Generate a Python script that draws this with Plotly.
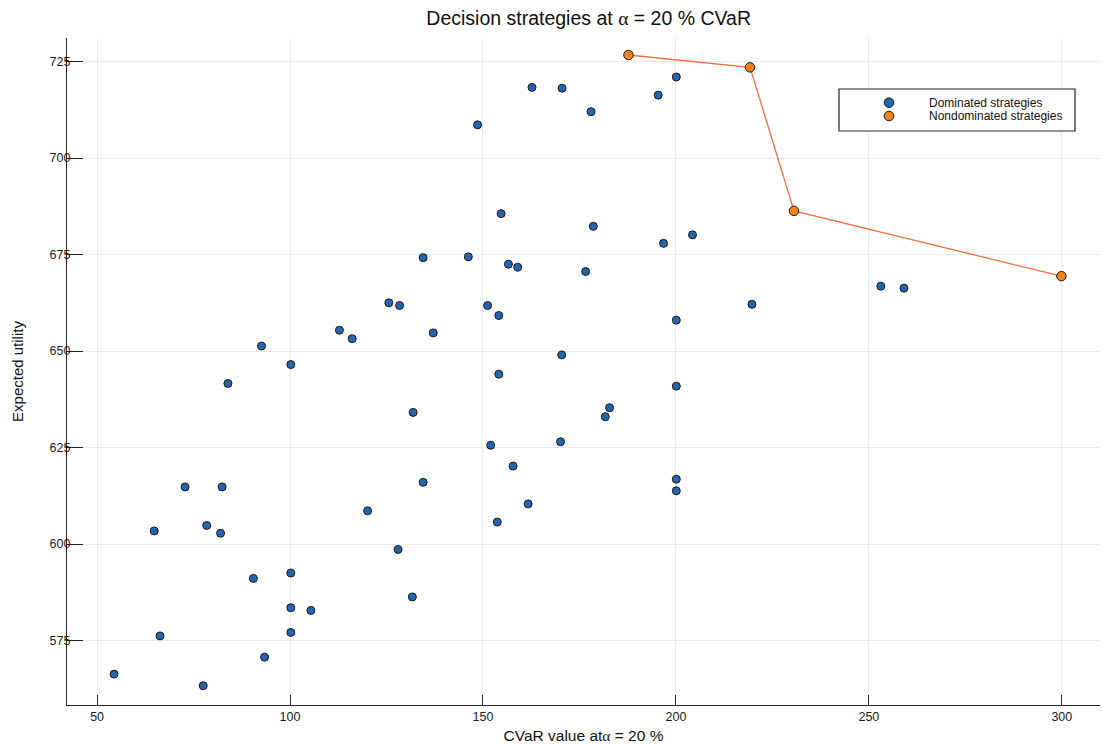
import plotly.graph_objects as go

# Dominated strategies (CVaR value, expected utility)
dom_cvar = [54.4, 77.5, 66.3, 93.4, 100.2, 100.2, 105.4, 131.7, 90.5, 100.2,
            128.0, 64.8, 78.4, 82.0, 72.8, 82.4, 120.1, 134.5, 153.7, 161.7,
            157.8, 152.0, 170.1, 200.1, 200.1, 131.9, 181.7, 182.8, 200.1, 83.9,
            154.1, 100.2, 170.4, 92.6, 112.8, 116.1, 137.1, 200.1, 154.1, 125.6,
            128.4, 151.2, 219.7, 253.1, 259.1, 176.6, 159.0, 156.6, 146.2, 134.5,
            196.8, 204.3, 178.6, 154.7, 148.6, 178.0, 195.4, 162.7, 170.5, 200.1]
dom_util = [566.3, 563.3, 576.2, 570.7, 577.1, 583.5, 582.8, 586.3, 591.1, 592.5,
            598.6, 603.4, 604.8, 602.8, 614.8, 614.8, 608.6, 616.0, 605.7, 610.4,
            620.2, 625.6, 626.5, 616.8, 613.8, 634.1, 633.0, 635.3, 640.9, 641.6,
            644.0, 646.5, 649.0, 651.3, 655.4, 653.2, 654.7, 658.0, 659.2, 662.5,
            661.8, 661.8, 662.1, 666.8, 666.3, 670.6, 671.7, 672.5, 674.4, 674.2,
            677.9, 680.1, 682.3, 685.6, 708.6, 712.0, 716.3, 718.3, 718.1, 721.0]

# Nondominated strategies (Pareto front)
nd_cvar = [187.7, 219.2, 230.6, 299.9]
nd_util = [726.7, 723.5, 686.3, 669.4]

x_ticks = [50, 100, 150, 200, 250, 300]
y_ticks = [575, 600, 625, 650, 675, 700, 725]

legend_labels = ["Dominated strategies", "Nondominated strategies"]

BLUE = "#2764b0"
ORANGE = "#f0841a"
LINE = "#f36d47"
EDGE = "#1a1a1a"
FONT = "Liberation Sans, Arial"
ALPHA = '<span style="font-family:Liberation Serif">α</span>'

W, H = 1102, 744
ML, MR, MT, MB = 67, 2, 38, 39
PW, PH = W - ML - MR, H - MT - MB


def px(x):
    return (x - ML) / PW


def py(y):
    return 1 - (y - MT) / PH


fig = go.Figure()
fig.add_trace(go.Scatter(x=nd_cvar, y=nd_util, mode="lines",
                         line=dict(color=LINE, width=1.3), showlegend=False,
                         hoverinfo="skip"))
fig.add_trace(go.Scatter(x=dom_cvar, y=dom_util, mode="markers",
                         name=legend_labels[0],
                         marker=dict(color=BLUE, size=8,
                                     line=dict(color=EDGE, width=1))))
fig.add_trace(go.Scatter(x=nd_cvar, y=nd_util, mode="markers",
                         name=legend_labels[1],
                         marker=dict(color=ORANGE, size=9.5,
                                     line=dict(color=EDGE, width=1))))

axis_common = dict(showgrid=True, gridcolor="#ebebeb", gridwidth=1,
                   zeroline=False, showline=True, linecolor="#222222",
                   linewidth=1.3, ticks="inside", tickwidth=1.3,
                   tickcolor="#222222", mirror=False, automargin=False,
                   tickfont=dict(family=FONT, size=12.5, color="#1a1a1a"))

# legend drawn as a framed box with sample markers and labels
shapes = [dict(type="rect", xref="paper", yref="paper",
               x0=px(839), x1=px(1075), y0=py(131), y1=py(89),
               line=dict(color="#222222", width=1.2), fillcolor="white",
               layer="above")]
annotations = []
for i, (lab, col) in enumerate(zip(legend_labels, [BLUE, ORANGE])):
    yc = 102.7 + i * 13.3
    shapes.append(dict(type="circle", xref="paper", yref="paper",
                       xsizemode="pixel", ysizemode="pixel",
                       xanchor=px(889), yanchor=py(yc),
                       x0=-4.8, x1=4.8, y0=-4.8, y1=4.8,
                       fillcolor=col, line=dict(color=EDGE, width=1),
                       layer="above"))
    annotations.append(dict(text=lab, xref="paper", yref="paper",
                            x=px(927), y=py(yc), xanchor="left",
                            yanchor="middle", showarrow=False,
                            font=dict(family=FONT, size=12, color="#111111")))

fig.update_layout(
    width=W, height=H,
    paper_bgcolor="white", plot_bgcolor="white",
    margin=dict(l=ML, r=MR, t=MT, b=MB),
    showlegend=False,
    shapes=shapes,
    annotations=annotations,
    title=dict(text=f"Decision strategies at {ALPHA} = 20 % CVaR",
               x=0.505, xref="paper", xanchor="center",
               y=1 - 18 / H, yanchor="middle",
               font=dict(family=FONT, size=19.5, color="#111111")),
    xaxis=dict(range=[42.2, 309.9], tickvals=x_ticks, ticklen=10,
               title=dict(text=f"CVaR value at{ALPHA} = 20 %",
                          font=dict(family=FONT, size=15.5, color="#111111")),
               **axis_common),
    yaxis=dict(range=[558.3, 731.1], tickvals=y_ticks, ticklen=16,
               ticklabelstandoff=-7,
               title=dict(text="Expected utility", standoff=22,
                          font=dict(family=FONT, size=15, color="#111111")),
               **axis_common),
)

fig.write_html("out.html",
               config={"displayModeBar": False},
               post_script="document.body.style.margin='0';"
                           "document.body.style.overflow='hidden';")
